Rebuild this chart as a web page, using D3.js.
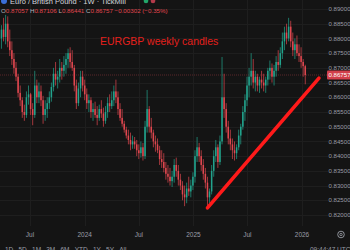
<!DOCTYPE html>
<html>
<head>
<meta charset="utf-8">
<script src="https://cdn.jsdelivr.net/npm/d3@7"></script>
<style>
  html, body { margin: 0; padding: 0; background: #141414; }
  svg { display: block; font-family: "Liberation Sans", Arial, sans-serif; }
</style>
</head>
<body>
<svg id="chart" width="350" height="250"></svg>
<script>
// weekly EURGBP candles, first week starts Mon 27 Mar 2023
const firstWeek = new Date(2023, 2, 27);
const lastWeek = new Date(2026, 0, 12);

const opens = [
  .8800, .8830, .8805, .8850, .8790, .8760, .8730, .8700, .8670, .8615,
  .8590, .8550, .8540, .8600, .8610, .8560, .8540, .8640, .8600, .8620,
  .8590, .8540, .8560, .8580, .8600, .8635, .8680, .8660, .8670, .8700,
  .8690, .8710, .8730, .8750, .8720, .8700, .8640, .8580, .8630, .8670,
  .8640, .8610, .8580, .8590, .8550, .8560, .8540, .8530, .8560, .8545,
  .8520, .8550, .8580, .8570, .8590, .8620, .8600, .8560, .8530, .8510,
  .8490, .8470, .8455, .8440, .8450, .8440, .8420, .8410, .8430, .8400,
  .8500, .8560, .8500, .8480, .8450, .8440, .8420, .8390, .8380, .8360,
  .8340, .8330, .8315, .8330, .8370, .8350, .8320, .8300, .8270, .8260,
  .8290, .8280, .8300, .8330, .8400, .8430, .8400, .8370, .8340, .8310,
  .8260, .8280, .8350, .8400, .8430, .8380, .8450, .8600, .8560, .8500,
  .8460, .8440, .8420, .8410, .8430, .8470, .8500, .8550, .8590, .8640,
  .8670, .8690, .8650, .8670, .8640, .8660, .8650, .8640, .8660, .8690,
  .8700, .8670, .8690, .8720, .8710, .8750, .8790, .8820, .8800, .8840,
  .8790, .8760, .8780, .8750, .8740, .8720, .87057
];
const highs = [
  .8845, .8870, .8880, .8875, .8830, .8790, .8750, .8720, .8680, .8640,
  .8600, .8575, .8620, .8640, .8615, .8580, .8690, .8660, .8650, .8640,
  .8605, .8590, .8600, .8620, .8650, .8700, .8720, .8690, .8730, .8720,
  .8740, .8750, .8765, .8770, .8760, .8710, .8660, .8650, .8690, .8690,
  .8660, .8630, .8610, .8600, .8580, .8585, .8570, .8575, .8590, .8565,
  .8570, .8600, .8610, .8620, .8640, .8660, .8620, .8580, .8560, .8520,
  .8500, .8490, .8480, .8470, .8465, .8455, .8440, .8450, .8445, .8520,
  .8625, .8570, .8530, .8490, .8470, .8460, .8435, .8420, .8410, .8380,
  .8370, .8360, .8350, .8390, .8395, .8370, .8340, .8315, .8300, .8310,
  .8330, .8320, .8345, .8420, .8465, .8445, .8420, .8390, .8360, .8330,
  .8290, .8370, .8420, .8455, .8440, .8470, .8737, .8680, .8580, .8520,
  .8490, .8460, .8450, .8440, .8490, .8510, .8570, .8610, .8670, .8700,
  .8750, .8730, .8690, .8680, .8670, .8690, .8680, .8670, .8700, .8725,
  .8715, .8710, .8740, .8760, .8770, .8820, .8840, .8850, .8870, .8860,
  .8820, .8800, .8810, .8780, .8770, .8730, .87106
];
const lows = [
  .8765, .8790, .8780, .8770, .8740, .8710, .8680, .8655, .8600, .8570,
  .8530, .8520, .8530, .8575, .8540, .8505, .8530, .8580, .8580, .8570,
  .8510, .8520, .8530, .8560, .8585, .8620, .8640, .8630, .8650, .8660,
  .8670, .8680, .8700, .8700, .8690, .8620, .8560, .8570, .8600, .8620,
  .8590, .8560, .8550, .8530, .8520, .8530, .8505, .8520, .8530, .8500,
  .8510, .8530, .8550, .8560, .8570, .8580, .8540, .8520, .8500, .8480,
  .8460, .8440, .8420, .8425, .8425, .8400, .8390, .8395, .8385, .8390,
  .8480, .8480, .8460, .8430, .8415, .8410, .8370, .8360, .8345, .8320,
  .8310, .8300, .8295, .8310, .8330, .8300, .8285, .8250, .8230, .8240,
  .8265, .8260, .8285, .8310, .8380, .8380, .8350, .8320, .8290, .8230,
  .8240, .8270, .8330, .8380, .8360, .8370, .8440, .8530, .8480, .8440,
  .8420, .8390, .8385, .8390, .8420, .8440, .8490, .8520, .8570, .8600,
  .8640, .8630, .8620, .8620, .8615, .8630, .8620, .8615, .8640, .8660,
  .8650, .8640, .8670, .8690, .8700, .8730, .8760, .8780, .8790, .8770,
  .8740, .8730, .8740, .8720, .8700, .8670, .86441
];
const closes = [
  .8830, .8805, .8850, .8790, .8760, .8730, .8700, .8670, .8615, .8590,
  .8550, .8540, .8600, .8610, .8560, .8540, .8640, .8600, .8620, .8590,
  .8540, .8560, .8580, .8600, .8635, .8680, .8660, .8670, .8700, .8690,
  .8710, .8730, .8750, .8720, .8700, .8640, .8580, .8630, .8670, .8640,
  .8610, .8580, .8590, .8550, .8560, .8540, .8530, .8560, .8545, .8520,
  .8550, .8580, .8570, .8590, .8620, .8600, .8560, .8530, .8510, .8490,
  .8470, .8455, .8440, .8450, .8440, .8420, .8410, .8430, .8400, .8500,
  .8560, .8500, .8480, .8450, .8440, .8420, .8390, .8380, .8360, .8340,
  .8330, .8315, .8330, .8370, .8350, .8320, .8300, .8270, .8260, .8290,
  .8280, .8300, .8330, .8400, .8430, .8400, .8370, .8340, .8310, .8260,
  .8280, .8350, .8400, .8430, .8380, .8450, .8600, .8560, .8500, .8460,
  .8440, .8420, .8410, .8430, .8470, .8500, .8550, .8590, .8640, .8670,
  .8690, .8650, .8670, .8640, .8660, .8650, .8640, .8660, .8690, .8700,
  .8670, .8690, .8720, .8710, .8750, .8790, .8820, .8800, .8840, .8790,
  .8760, .8780, .8750, .8740, .8720, .87059, .86757
];

// hand drawn trend line (start / end)
const trendDates = [new Date(2025, 1, 17), new Date(2026, 1, 27)];
const trendPrices = [0.8224, 0.8665];

const priceTicks = [0.82, 0.825, 0.83, 0.835, 0.84, 0.845, 0.85, 0.855, 0.86, 0.865, 0.87, 0.875, 0.88, 0.885, 0.89];
const timeTicks = [new Date(2023, 6, 1), new Date(2024, 0, 1), new Date(2024, 6, 1), new Date(2025, 0, 1), new Date(2025, 6, 1), new Date(2026, 0, 1)];
const timeLabels = ["Jul", "2024", "Jul", "2025", "Jul", "2026"];
const rangeButtons = ["1D", "5D", "1M", "3M", "6M", "YTD", "1Y", "5Y", "All"];

const upColor = "#22a38d";
const downColor = "#e0474f";
const axisText = "#9a9da6";

const svg = d3.select("#chart");
const plotRight = 328;
const plotBottom = 226;

const x = d3.scaleTime()
  .domain([new Date(2023, 6, 1), new Date(2026, 0, 1)])
  .range([30, 302]);
const y = d3.scaleLinear()
  .domain([0.82, 0.89])
  .range([215, 9]);

const weeks = d3.timeMonday.range(firstWeek, d3.timeDay.offset(lastWeek, 1));
const candles = weeks.map((d, i) => ({
  date: d, o: opens[i], h: highs[i], l: lows[i], c: closes[i]
}));

svg.append("rect").attr("width", 350).attr("height", 250).attr("fill", "#141414");

//grid
const grid = svg.append("g").attr("stroke", "#1e1e1e").attr("stroke-width", 1);
grid.selectAll("line.h").data(priceTicks)
  .join("line")
  .attr("class", "h")
  .attr("x1", 0).attr("x2", plotRight)
  .attr("y1", d => Math.round(y(d)) + 0.5).attr("y2", d => Math.round(y(d)) + 0.5);
grid.selectAll("line.v").data(timeTicks)
  .join("line")
  .attr("class", "v")
  .attr("x1", d => Math.round(x(d)) + 0.5).attr("x2", d => Math.round(x(d)) + 0.5)
  .attr("y1", 0).attr("y2", plotBottom);

//last price line
const lastClose = closes[closes.length - 1];
svg.append("line")
  .attr("x1", 0).attr("x2", plotRight)
  .attr("y1", y(lastClose)).attr("y2", y(lastClose))
  .attr("stroke", "#7a2e33")
  .attr("stroke-width", 0.7)
  .attr("stroke-dasharray", "1,1");

//candles
const cg = svg.append("g");
cg.selectAll("line.wick").data(candles)
  .join("line")
  .attr("class", "wick")
  .attr("x1", d => x(d.date)).attr("x2", d => x(d.date))
  .attr("y1", d => y(d.h)).attr("y2", d => y(d.l))
  .attr("stroke", d => d.c >= d.o ? upColor : downColor)
  .attr("stroke-width", 0.7);
cg.selectAll("rect.body").data(candles)
  .join("rect")
  .attr("class", "body")
  .attr("x", d => x(d.date) - 0.75)
  .attr("width", 1.5)
  .attr("y", d => y(Math.max(d.o, d.c)))
  .attr("height", d => Math.max(0.7, Math.abs(y(d.o) - y(d.c))))
  .attr("fill", d => d.c >= d.o ? upColor : downColor);

//trend line
const trend = d3.line().x(d => x(d[0])).y(d => y(d[1]));
svg.append("path")
  .datum(trendDates.map((d, i) => [d, trendPrices[i]]))
  .attr("d", trend)
  .attr("stroke", "#ff1a1a")
  .attr("stroke-width", 3.6)
  .attr("stroke-linecap", "round")
  .attr("fill", "none");

//title
svg.append("text")
  .attr("x", 100).attr("y", 45)
  .attr("font-size", 10.5)
  .attr("fill", "#e4201c")
  .text("EURGBP weekly candles");

//price axis labels
svg.selectAll("text.price").data(priceTicks)
  .join("text")
  .attr("class", "price")
  .attr("x", 328.5)
  .attr("y", d => y(d) + 2.2)
  .attr("font-size", 6.1)
  .attr("fill", axisText)
  .text(d => d3.format(".5f")(d));

const tag = svg.append("g").attr("transform", `translate(327,${y(lastClose)})`);
tag.append("rect")
  .attr("x", 0).attr("y", -4.5)
  .attr("width", 24).attr("height", 9)
  .attr("rx", 1)
  .attr("fill", "#d23f4b");
tag.append("text")
  .attr("x", 1.5).attr("y", 2.2)
  .attr("font-size", 6.1)
  .attr("fill", "white")
  .text(d3.format(".5f")(lastClose));

//time axis
svg.selectAll("text.time").data(timeTicks)
  .join("text")
  .attr("class", "time")
  .attr("x", d => x(d))
  .attr("y", 237)
  .attr("text-anchor", "middle")
  .attr("font-size", 6.5)
  .attr("fill", axisText)
  .text((d, i) => timeLabels[i]);

const gear = svg.append("g").attr("transform", "translate(341,234.5)");
gear.append("circle").attr("r", 3.3).attr("fill", "none").attr("stroke", axisText).attr("stroke-width", 0.9);
gear.append("circle").attr("r", 1.2).attr("fill", "none").attr("stroke", axisText).attr("stroke-width", 0.8);

//bottom bar
let bx = 5;
rangeButtons.forEach(b => {
  const t = svg.append("text")
    .attr("x", bx).attr("y", 251.5)
    .attr("font-size", 6.5)
    .attr("fill", axisText)
    .text(b);
  bx += t.node().getComputedTextLength() + 5.2;
});
svg.append("text")
  .attr("x", 310).attr("y", 251.5)
  .attr("font-size", 6.5)
  .attr("fill", axisText)
  .text("09:44:47 UTC");

//header
svg.append("circle").attr("cx", 4).attr("cy", 1).attr("r", 3).attr("fill", "#3b6fd8");
svg.append("text")
  .attr("x", 10).attr("y", 3.5)
  .attr("font-size", 7.5)
  .attr("fill", "#d1d4dc")
  .text("Euro / British Pound · 1W · TickMill");
svg.append("circle").attr("cx", 146).attr("cy", 1).attr("r", 2.3).attr("fill", "#22a66a");
svg.append("circle").attr("cx", 153).attr("cy", 1).attr("r", 2.3).attr("fill", "#b33a4a");

const fmt = d3.format(".5f");
const last = closes.length - 1;
const change = closes[last] - closes[last - 1];
const pct = change / closes[last - 1] * 100;
const ohlc = svg.append("text")
  .attr("x", 1).attr("y", 12.5)
  .attr("font-size", 6.2);
[["O", opens[last]], ["H", highs[last]], ["L", lows[last]], ["C", closes[last]]].forEach((p, i) => {
  ohlc.append("tspan").attr("fill", "#b2b5be").text((i ? " " : "") + p[0]);
  ohlc.append("tspan").attr("fill", downColor).text(fmt(p[1]));
});
ohlc.append("tspan").attr("fill", downColor)
  .text(" " + d3.format(".5f")(change) + " (" + d3.format(".2f")(pct) + "%)");
</script>
</body>
</html>
